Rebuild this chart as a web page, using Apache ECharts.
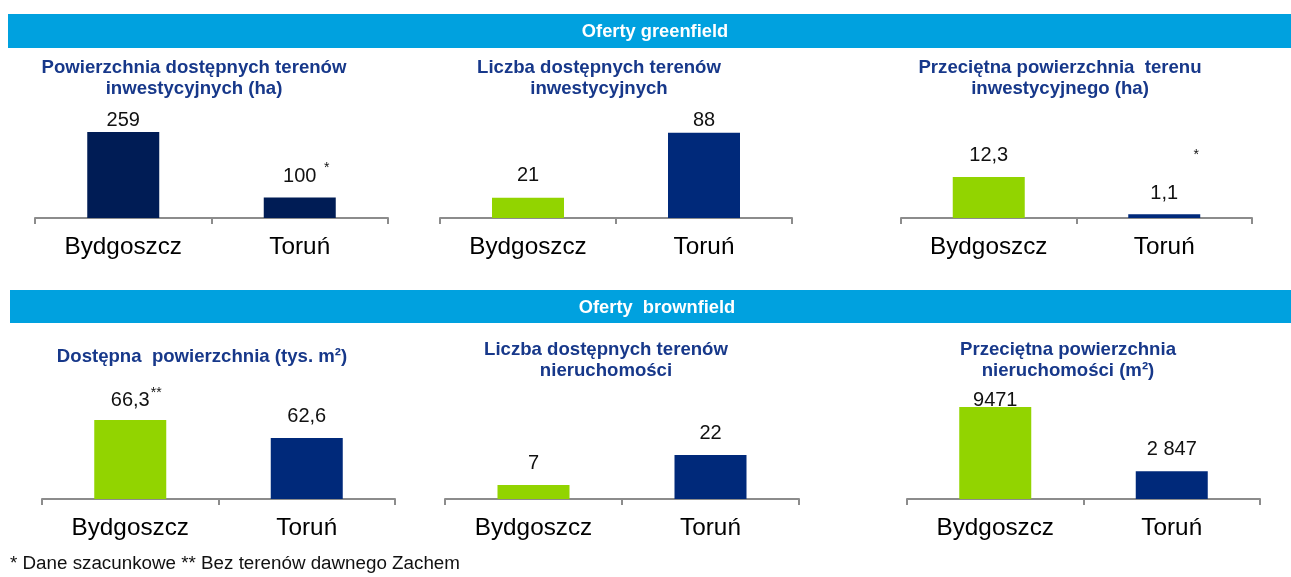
<!DOCTYPE html>
<html>
<head>
<meta charset="utf-8">
<script src="https://cdn.jsdelivr.net/npm/echarts@6/dist/echarts.min.js"></script>
<style>
  html, body { margin: 0; padding: 0; background: #ffffff; }
  #chart { width: 1291px; height: 577px; }
</style>
</head>
<body>
<div id="chart"></div>
<script>
// ---------- DATA ----------
const categories = ['Bydgoszcz', 'Toruń'];
const headerTexts = ['Oferty greenfield', 'Oferty  brownfield'];
const chartTitles = [
  'Powierzchnia dostępnych terenów\ninwestycyjnych (ha)',
  'Liczba dostępnych terenów\ninwestycyjnych',
  'Przeciętna powierzchnia  terenu\ninwestycyjnego (ha)',
  'Dostępna  powierzchnia (tys. m²)',
  'Liczba dostępnych terenów\nnieruchomości',
  'Przeciętna powierzchnia\nnieruchomości (m²)'
];
const greenfieldArea = [259, 100];
const greenfieldCount = [21, 88];
const greenfieldAvgArea = [12.3, 1.1];
const brownfieldArea = [66.3, 62.6];
const brownfieldCount = [7, 22];
const brownfieldAvgArea = [9471, 2847];

const greenfieldAreaLabels = ['259', '100'];
const greenfieldCountLabels = ['21', '88'];
const greenfieldAvgAreaLabels = ['12,3', '1,1'];
const brownfieldAreaLabels = ['66,3', '62,6'];
const brownfieldCountLabels = ['7', '22'];
const brownfieldAvgAreaLabels = ['9471', '2 847'];

// footnote markers: [category index, marker]
const greenfieldAreaNote = [1, '*'];
const greenfieldAvgAreaNote = [1, '*'];
const brownfieldAreaNote = [0, '**'];

const footnoteText = '* Dane szacunkowe ** Bez terenów dawnego Zachem';

// ---------- STYLE / LAYOUT ----------
const NAVY_DARK = '#001c55';
const NAVY = '#00297a';
const GREEN = '#92d400';
const HEADER_BLUE = '#00a1df';
const TITLE_COLOR = '#17388a';
const AXIS_GRAY = '#8c8c8c';
const FONT = '"Liberation Sans", Arial, sans-serif';

const charts = [
  { values: greenfieldArea, labels: greenfieldAreaLabels, note: greenfieldAreaNote, noteOffset: [27, -29],
    left: 35, width: 353, top: 118, min: 50, max: 293, colors: [NAVY_DARK, NAVY_DARK], dist: [1.5, 11], titleX: 194, titleTop: 57 },
  { values: greenfieldCount, labels: greenfieldCountLabels,
    left: 440, width: 352, top: 118, min: 0, max: 103.2, colors: [GREEN, NAVY], dist: [12, 2.5], titleX: 599, titleTop: 57 },
  { values: greenfieldAvgArea, labels: greenfieldAvgAreaLabels, note: greenfieldAvgAreaNote, noteOffset: [32, -59],
    left: 901, width: 351, top: 118, min: 0, max: 30, colors: [GREEN, NAVY], dist: [12, 11], titleX: 1060, titleTop: 57 },
  { values: brownfieldArea, labels: brownfieldAreaLabels, note: brownfieldAreaNote, noteOffset: [26, -27],
    left: 42, width: 353, top: 399, min: 50, max: 70.63, colors: [GREEN, NAVY], dist: [10, 11], titleX: 202, titleTop: 346 },
  { values: brownfieldCount, labels: brownfieldCountLabels,
    left: 445, width: 354, top: 399, min: 0, max: 50, colors: [GREEN, NAVY], dist: [12, 11.5], titleX: 606, titleTop: 339 },
  { values: brownfieldAvgArea, labels: brownfieldAvgAreaLabels,
    left: 907, width: 353, top: 399, min: 0, max: 10300, colors: [GREEN, NAVY], dist: [-3.4, 12], titleX: 1068, titleTop: 339 }
];
const GRID_H = 100;

const option = {
  animation: false,
  backgroundColor: '#ffffff',
  textStyle: { fontFamily: FONT },
  title: charts.map((c, i) => ({
    text: chartTitles[i],
    left: c.titleX,
    top: c.titleTop,
    textAlign: 'center',
    padding: 0,
    textStyle: { fontFamily: FONT, fontSize: 18.6, fontWeight: 'bold', color: TITLE_COLOR, lineHeight: 21, align: 'center' }
  })),
  grid: charts.map(c => ({ left: c.left, width: c.width, top: c.top, height: GRID_H, containLabel: false })),
  xAxis: charts.map((c, i) => ({
    type: 'category',
    gridIndex: i,
    data: categories,
    axisLine: { show: true, lineStyle: { color: AXIS_GRAY, width: 2 } },
    axisTick: { show: true, length: 6, lineStyle: { color: AXIS_GRAY, width: 2 } },
    axisLabel: { margin: 17, fontSize: 24.3, color: '#000000', fontFamily: FONT },
    splitLine: { show: false }
  })),
  yAxis: charts.map((c, i) => ({
    type: 'value',
    gridIndex: i,
    min: c.min,
    max: c.max,
    show: false,
    splitLine: { show: false }
  })),
  series: charts.map((c, i) => ({
    type: 'bar',
    xAxisIndex: i,
    yAxisIndex: i,
    barWidth: 72,
    data: c.values.map((v, j) => ({
      value: v,
      itemStyle: { color: c.colors[j] },
      label: {
        show: true,
        position: 'top',
        distance: c.dist[j],
        formatter: () => c.labels[j],
        fontSize: 20,
        color: '#111111',
        fontFamily: FONT
      }
    })),
    markPoint: c.note ? {
      symbolSize: 0,
      silent: true,
      data: [{
        coord: [c.note[0], c.values[c.note[0]]],
        label: {
          show: true,
          position: 'inside',
          offset: c.noteOffset,
          formatter: c.note[1],
          fontSize: 14,
          color: '#111111',
          fontFamily: FONT
        }
      }]
    } : undefined
  })),
  graphic: [
    { type: 'rect', shape: { x: 8, y: 14, width: 1283, height: 34 }, style: { fill: HEADER_BLUE }, silent: true },
    { type: 'text', x: 655, y: 31.5, style: { text: headerTexts[0], fill: '#ffffff', font: 'bold 18.3px ' + FONT, textAlign: 'center', textVerticalAlign: 'middle' }, silent: true },
    { type: 'rect', shape: { x: 10, y: 290, width: 1281, height: 33 }, style: { fill: HEADER_BLUE }, silent: true },
    { type: 'text', x: 657, y: 307.8, style: { text: headerTexts[1], fill: '#ffffff', font: 'bold 18.3px ' + FONT, textAlign: 'center', textVerticalAlign: 'middle' }, silent: true },
    { type: 'text', x: 10, y: 563.5, style: { text: footnoteText, fill: '#111111', font: '18.8px ' + FONT, textAlign: 'left', textVerticalAlign: 'middle' }, silent: true }
  ]
};

const chart = echarts.init(document.getElementById('chart'), null, { renderer: 'canvas' });
chart.setOption(option);
</script>
</body>
</html>
